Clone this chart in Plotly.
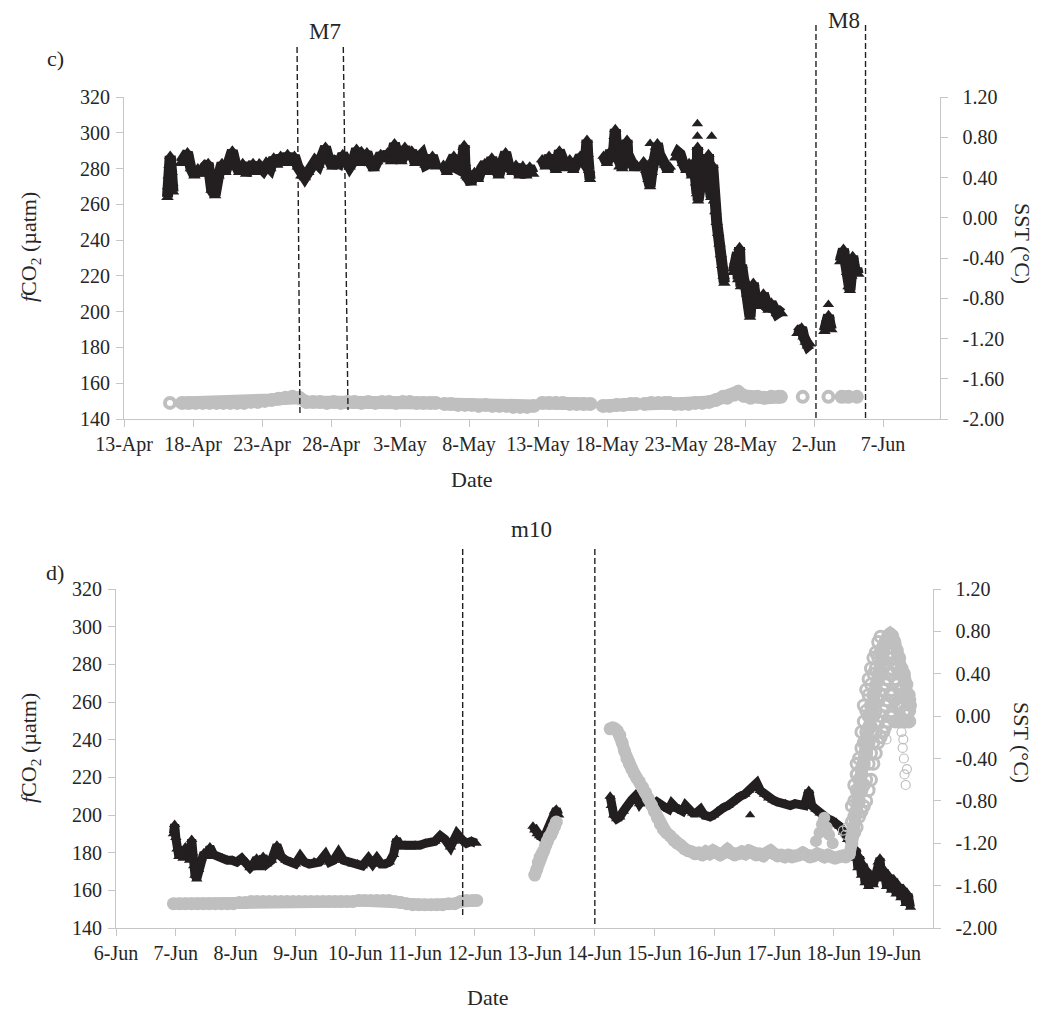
import pandas as pd
import plotly.graph_objects as go

W, H = 1042, 1010
BASE_C = pd.Timestamp("2013-04-13")
BASE_D = pd.Timestamp("2013-06-06")

# ---------------- panel c) : (days after 13-Apr, value) ----------------
c_fco2_pts = [
    (3.15, 264), (3.20, 270), (3.25, 276), (3.30, 282), (3.35, 287), (3.40, 284), (3.45, 278), (3.50, 272), (3.55, 267),
    (4.10, 283), (4.35, 287), (4.60, 289), (4.85, 280), (5.10, 276), (5.35, 280), (5.60, 277), (5.85, 281), (6.10, 283), (6.35, 268),
    (6.60, 265), (6.85, 276), (7.10, 283), (7.35, 278), (7.60, 284), (7.85, 290), (8.10, 282), (8.35, 278), (8.60, 283), (8.85, 277),
    (9.10, 280), (9.35, 283), (9.60, 278), (9.85, 281), (10.10, 279), (10.35, 282), (10.60, 280), (10.85, 286), (11.10, 282), (11.35, 287),
    (11.60, 283), (11.85, 288), (12.10, 283), (12.35, 287), (12.60, 281), (12.85, 276), (13.10, 275), (13.35, 278), (13.60, 281), (13.85, 284),
    (14.10, 282), (14.35, 288), (14.60, 292), (14.85, 285), (15.10, 281), (15.35, 284), (15.60, 283), (15.85, 288), (16.10, 283), (16.35, 281),
    (16.60, 284), (16.85, 291), (17.10, 283), (17.35, 285), (17.60, 289), (17.85, 283), (18.10, 280), (18.35, 284), (18.60, 288), (18.85, 285),
    (19.10, 289), (19.35, 284), (19.60, 294), (19.85, 287), (20.10, 284), (20.35, 292), (20.60, 286), (20.85, 290), (21.10, 283), (21.35, 286),
    (21.60, 288), (21.85, 282), (22.10, 283), (22.35, 287), (22.60, 281),
    (23.15, 282), (23.40, 278), (23.65, 283), (23.90, 287), (24.15, 280), (24.40, 279), (24.55, 286), (24.60, 292), (24.65, 293), (24.70, 283),
    (24.80, 276), (24.90, 275), (25.15, 272), (25.40, 278), (25.65, 274), (25.90, 280), (26.15, 283), (26.40, 278), (26.65, 286), (26.90, 280),
    (27.15, 276), (27.40, 283), (27.65, 289), (27.90, 281), (28.15, 278), (28.40, 282), (28.65, 276), (28.90, 279), (29.15, 276), (29.40, 281),
    (29.65, 277),
    (30.30, 285), (30.55, 281), (30.80, 287), (31.05, 282), (31.30, 279), (31.55, 290), (31.80, 284), (32.05, 280), (32.30, 285), (32.55, 279),
    (32.80, 283), (33.05, 287), (33.30, 284), (33.45, 286), (33.50, 291), (33.55, 296), (33.60, 288), (33.70, 279), (33.77, 274),
    (34.75, 287), (35.00, 283), (35.25, 290), (35.45, 285), (35.50, 292), (35.55, 298), (35.60, 302), (35.65, 295), (35.70, 288), (35.90, 281),
    (36.10, 280), (36.25, 285), (36.35, 284), (36.40, 290), (36.45, 296), (36.50, 288), (36.75, 284), (37.00, 280), (37.15, 282),
    (37.65, 284), (37.85, 279), (38.00, 274), (38.12, 270), (38.25, 278), (38.40, 286), (38.55, 292), (38.65, 294), (38.80, 288),
    (39.00, 285), (39.20, 282), (39.40, 279), (39.55, 281),
    (39.95, 286), (40.15, 289), (40.30, 288), (40.50, 283), (40.75, 279), (40.95, 283), (41.15, 276), (41.30, 284), (41.38, 278), (41.45, 272),
    (41.52, 266), (41.56, 292), (41.60, 262), (41.75, 270), (41.90, 280), (42.05, 285), (42.20, 276), (42.35, 288),
    (42.45, 270), (42.55, 264), (42.65, 282), (42.75, 262), (42.85, 256), (42.95, 250), (43.05, 244), (43.15, 238), (43.25, 232),
    (43.35, 226), (43.45, 220), (43.50, 216),
    (44.15, 222), (44.30, 228), (44.45, 233), (44.50, 218), (44.60, 236), (44.70, 214), (44.75, 226), (44.90, 218), (45.05, 214), (45.15, 210),
    (45.30, 204), (45.36, 197), (45.45, 206), (45.60, 216), (45.75, 208), (45.90, 203), (46.05, 206), (46.20, 205), (46.33, 210), (46.50, 204),
    (46.70, 201), (46.90, 205), (47.10, 201), (47.30, 199), (47.50, 200), (47.66, 199),
    (48.80, 188), (48.95, 190), (49.10, 191), (49.25, 186), (49.40, 183), (49.55, 181), (49.70, 182),
    (50.75, 189), (50.85, 192), (50.95, 196), (51.05, 198), (51.15, 193), (51.25, 190),
    (51.90, 228), (52.00, 232), (52.13, 235), (52.25, 229), (52.40, 222), (52.50, 214), (52.60, 212), (52.70, 220), (52.80, 231), (52.90, 226),
    (53.00, 222), (53.10, 224), (53.20, 221),
]
# isolated readings that stand apart from the main band
c_fco2_lone_pts = [(38.12, 294), (41.55, 305), (41.55, 298), (42.58, 298), (51.04, 204), (17.20, 290)]

c_sst_pts = [
    (4.2, -1.84), (4.7, -1.84), (5.2, -1.84), (5.7, -1.84), (6.2, -1.84), (6.7, -1.84), (7.2, -1.84), (7.7, -1.84), (8.2, -1.84), (8.7, -1.84),
    (9.2, -1.83), (9.7, -1.83), (10.2, -1.82), (10.7, -1.81), (11.2, -1.80), (11.7, -1.79), (12.2, -1.78), (12.7, -1.79), (13.2, -1.83), (13.7, -1.83),
    (14.2, -1.83), (14.7, -1.84), (15.2, -1.83), (15.7, -1.84), (16.2, -1.83), (16.7, -1.83), (17.2, -1.84), (17.7, -1.83), (18.2, -1.84), (18.7, -1.83),
    (19.2, -1.83), (19.7, -1.84), (20.2, -1.83), (20.7, -1.83), (21.2, -1.84), (21.7, -1.84), (22.2, -1.84), (22.6, -1.84),
    (23.2, -1.85), (23.7, -1.85), (24.2, -1.86), (24.7, -1.86), (25.2, -1.86), (25.7, -1.87), (26.2, -1.86), (26.7, -1.87), (27.2, -1.87), (27.7, -1.87),
    (28.2, -1.88), (28.7, -1.88), (29.2, -1.88), (29.7, -1.87),
    (30.3, -1.84), (30.8, -1.84), (31.3, -1.84), (31.8, -1.84), (32.3, -1.85), (32.8, -1.85), (33.3, -1.85), (33.8, -1.85),
    (34.7, -1.87), (35.2, -1.87), (35.7, -1.86), (36.2, -1.86), (36.7, -1.85), (37.1, -1.85),
    (37.7, -1.85), (38.2, -1.84), (38.7, -1.84), (39.2, -1.84), (39.5, -1.84),
    (39.9, -1.85), (40.4, -1.85), (40.9, -1.85), (41.4, -1.84), (41.9, -1.84), (42.4, -1.83), (42.9, -1.81), (43.4, -1.78), (43.7, -1.79),
    (44.2, -1.76), (44.5, -1.73), (44.9, -1.77), (45.4, -1.79), (45.9, -1.78), (46.4, -1.79), (46.9, -1.78), (47.4, -1.78), (47.6, -1.78),
    (52.0, -1.78), (52.5, -1.78), (53.1, -1.78),
]
c_sst_open_pts = [(3.33, -1.84), (49.18, -1.78), (51.04, -1.78)]

# ---------------- panel d) : (days after 6-Jun, value) ----------------
d_fco2_pts = [
    (0.96, 190), (0.98, 195), (1.00, 188), (1.02, 182), (1.05, 178), (1.08, 181), (1.12, 177), (1.16, 183), (1.20, 178), (1.23, 176),
    (1.265, 187), (1.28, 180), (1.30, 173), (1.32, 168), (1.35, 166), (1.38, 171), (1.42, 177), (1.47, 180), (1.52, 178), (1.57, 183),
    (1.63, 179), (1.70, 178), (1.78, 177), (1.86, 176), (1.94, 176), (2.02, 175), (2.10, 177), (2.18, 175), (2.24, 172), (2.30, 174),
    (2.35, 177), (2.40, 172), (2.46, 178), (2.52, 174), (2.60, 176), (2.69, 184), (2.76, 178), (2.84, 176), (2.92, 175), (3.00, 174),
    (3.08, 178), (3.15, 175), (3.23, 174), (3.31, 175), (3.40, 175), (3.50, 179), (3.57, 175), (3.64, 176), (3.72, 180), (3.80, 176),
    (3.88, 175), (3.96, 174), (4.04, 174), (4.12, 173), (4.22, 177), (4.29, 174), (4.36, 177), (4.43, 174), (4.50, 174), (4.57, 175),
    (4.64, 179), (4.69, 187), (4.75, 184), (4.83, 184), (4.92, 183), (5.00, 184), (5.08, 184), (5.17, 185), (5.25, 185), (5.33, 186),
    (5.42, 189), (5.50, 187), (5.59, 183), (5.65, 186), (5.70, 190), (5.78, 187), (5.86, 185), (5.94, 186), (6.02, 185),
    (6.97, 194), (7.00, 192), (7.04, 190), (7.08, 189), (7.12, 188), (7.17, 189), (7.21, 192), (7.25, 195), (7.29, 198), (7.33, 202),
    (7.36, 203), (7.40, 200),
    (8.26, 210), (8.28, 205), (8.32, 200), (8.37, 198), (8.42, 199), (8.48, 202), (8.55, 206), (8.62, 208), (8.68, 210), (8.75, 206),
    (8.82, 209), (8.89, 206), (8.96, 205), (9.04, 207), (9.11, 205), (9.18, 204), (9.24, 203), (9.29, 206), (9.35, 204), (9.42, 203),
    (9.47, 202), (9.52, 205), (9.58, 202), (9.64, 201), (9.70, 201), (9.77, 203), (9.83, 200), (9.88, 199), (9.93, 199), (9.99, 200),
    (10.05, 202), (10.11, 203), (10.16, 204), (10.23, 205), (10.30, 207), (10.37, 209), (10.44, 210), (10.51, 211), (10.57, 213), (10.64, 214),
    (10.71, 217), (10.77, 213), (10.84, 211), (10.91, 209), (10.98, 208), (11.05, 207), (11.12, 206), (11.19, 206), (11.27, 205), (11.35, 206),
    (11.43, 205), (11.51, 205), (11.58, 213), (11.63, 205), (11.70, 203), (11.77, 201), (11.83, 199), (11.90, 198), (11.97, 197), (12.04, 196),
    (12.10, 194), (12.16, 191), (12.23, 187), (12.30, 184), (12.34, 177), (12.37, 182), (12.40, 172), (12.43, 178), (12.46, 168), (12.49, 174),
    (12.52, 164), (12.55, 171), (12.58, 162), (12.62, 168), (12.66, 163), (12.70, 170), (12.74, 175), (12.77, 177), (12.80, 166), (12.84, 171),
    (12.88, 162), (12.92, 168), (12.96, 160), (13.00, 166), (13.04, 158), (13.08, 163), (13.12, 156), (13.16, 161), (13.20, 153), (13.24, 158),
    (13.28, 151),
]
d_fco2_lone_pts = [(10.60, 200)]

d_sst_pts = [
    (0.96, -1.77), (1.06, -1.77), (1.16, -1.77), (1.26, -1.77), (1.36, -1.77), (1.46, -1.77), (1.56, -1.77), (1.66, -1.77), (1.76, -1.77), (1.86, -1.77),
    (1.96, -1.77), (2.06, -1.76), (2.16, -1.76), (2.26, -1.75), (2.36, -1.75), (2.46, -1.75), (2.56, -1.75), (2.66, -1.75), (2.76, -1.75), (2.86, -1.75),
    (2.96, -1.75), (3.06, -1.75), (3.16, -1.75), (3.26, -1.75), (3.36, -1.75), (3.46, -1.75), (3.56, -1.75), (3.66, -1.75), (3.76, -1.75), (3.86, -1.75),
    (3.96, -1.75), (4.06, -1.74), (4.16, -1.74), (4.26, -1.74), (4.36, -1.74), (4.46, -1.74), (4.56, -1.74), (4.66, -1.75), (4.76, -1.76), (4.86, -1.77),
    (4.96, -1.78), (5.06, -1.78), (5.16, -1.78), (5.26, -1.78), (5.36, -1.78), (5.46, -1.78), (5.56, -1.77), (5.66, -1.77), (5.76, -1.75), (5.86, -1.74),
    (5.96, -1.74), (6.03, -1.74),
    (7.00, -1.50), (7.03, -1.45), (7.06, -1.38), (7.09, -1.33), (7.12, -1.30), (7.15, -1.27), (7.18, -1.22), (7.21, -1.18), (7.24, -1.14), (7.27, -1.12),
    (7.30, -1.08), (7.33, -1.04), (7.36, -1.00),
    (8.26, -0.12), (8.30, -0.11), (8.34, -0.12), (8.38, -0.14), (8.42, -0.18), (8.46, -0.25), (8.50, -0.33), (8.54, -0.40), (8.58, -0.45), (8.62, -0.50),
    (8.66, -0.54), (8.70, -0.58), (8.75, -0.62), (8.80, -0.67), (8.85, -0.72), (8.90, -0.78), (8.95, -0.84), (9.00, -0.90), (9.05, -0.96), (9.10, -1.02),
    (9.15, -1.07), (9.20, -1.10), (9.26, -1.13), (9.32, -1.17), (9.38, -1.20), (9.44, -1.22), (9.50, -1.25), (9.56, -1.27), (9.62, -1.28), (9.68, -1.30),
    (9.74, -1.29), (9.80, -1.31), (9.86, -1.28), (9.92, -1.30), (9.98, -1.27), (10.04, -1.29), (10.10, -1.31), (10.16, -1.29), (10.22, -1.26), (10.28, -1.29),
    (10.34, -1.31), (10.40, -1.30), (10.46, -1.28), (10.52, -1.30), (10.58, -1.27), (10.64, -1.29), (10.70, -1.31), (10.76, -1.30), (10.82, -1.32), (10.88, -1.29),
    (10.94, -1.27), (11.00, -1.30), (11.06, -1.32), (11.12, -1.31), (11.18, -1.33), (11.24, -1.31), (11.30, -1.33), (11.36, -1.32), (11.42, -1.31), (11.48, -1.29),
    (11.54, -1.31), (11.60, -1.33), (11.66, -1.32), (11.72, -1.30), (11.78, -1.31), (11.84, -1.33), (11.90, -1.31), (11.96, -1.33),
    (12.02, -1.34), (12.08, -1.33), (12.14, -1.32), (12.20, -1.33), (12.26, -1.30),
    (12.30, -1.20), (12.33, -1.05), (12.36, -0.90), (12.39, -0.80), (12.42, -0.70), (12.46, -0.55), (12.50, -0.40), (12.54, -0.25), (12.58, -0.10), (12.62, 0.05),
    (12.66, 0.20), (12.70, 0.30), (12.74, 0.40), (12.78, 0.50), (12.82, 0.58), (12.86, 0.70), (12.90, 0.76), (12.94, 0.78), (12.98, 0.76), (13.02, 0.70),
    (13.06, 0.62), (13.10, 0.55), (13.14, 0.45), (13.18, 0.40), (13.22, 0.30), (13.26, 0.20), (13.28, 0.10),
]
d_sst_bump_pts = [(11.70, -1.18), (11.76, -1.10), (11.80, -1.02), (11.84, -0.96), (11.88, -1.05), (11.92, -1.12), (11.98, -1.20)]

d_sst_blob_pts = [
    (12.30, -1.15), (12.30, -1.00), (12.30, -0.85),
    (12.34, -1.10), (12.34, -0.95), (12.34, -0.80), (12.34, -0.65),
    (12.38, -1.05), (12.38, -0.90), (12.38, -0.70), (12.38, -0.55), (12.38, -0.45),
    (12.42, -0.95), (12.42, -0.80), (12.42, -0.60), (12.42, -0.40),
    (12.46, -0.90), (12.46, -0.70), (12.46, -0.50), (12.46, -0.30), (12.46, -0.15),
    (12.50, -0.85), (12.50, -0.65), (12.50, -0.45), (12.50, -0.25), (12.50, -0.05), (12.50, 0.10),
    (12.54, -0.80), (12.54, -0.60), (12.54, -0.35), (12.54, -0.15), (12.54, 0.05), (12.54, 0.25),
    (12.58, -0.70), (12.58, -0.45), (12.58, -0.25), (12.58, 0.00), (12.58, 0.20), (12.58, 0.35),
    (12.62, -0.60), (12.62, -0.35), (12.62, -0.10), (12.62, 0.10), (12.62, 0.30), (12.62, 0.45),
    (12.66, -0.45), (12.66, -0.25), (12.66, 0.00), (12.66, 0.20), (12.66, 0.40), (12.66, 0.55),
    (12.70, -0.35), (12.70, -0.15), (12.70, 0.05), (12.70, 0.25), (12.70, 0.45), (12.70, 0.60),
    (12.74, -0.25), (12.74, -0.05), (12.74, 0.15), (12.74, 0.35), (12.74, 0.55), (12.74, 0.70),
    (12.78, -0.20), (12.78, 0.00), (12.78, 0.20), (12.78, 0.40), (12.78, 0.60), (12.78, 0.75),
    (12.82, -0.15), (12.82, 0.05), (12.82, 0.25), (12.82, 0.45), (12.82, 0.65),
    (12.86, -0.10), (12.86, 0.10), (12.86, 0.30), (12.86, 0.50), (12.86, 0.70),
    (12.90, -0.05), (12.90, 0.15), (12.90, 0.35), (12.90, 0.55),
    (12.94, 0.00), (12.94, 0.20), (12.94, 0.40), (12.94, 0.60),
    (12.98, 0.00), (12.98, 0.20), (12.98, 0.40), (12.98, 0.55),
    (13.02, -0.05), (13.02, 0.15), (13.02, 0.35), (13.02, 0.50),
    (13.06, -0.05), (13.06, 0.10), (13.06, 0.30), (13.06, 0.45),
    (13.10, -0.05), (13.10, 0.10), (13.10, 0.25), (13.10, 0.40),
    (13.14, -0.05), (13.14, 0.10), (13.14, 0.25), (13.14, 0.40),
    (13.18, -0.05), (13.18, 0.05), (13.18, 0.20), (13.18, 0.35),
    (13.22, -0.05), (13.22, 0.05), (13.22, 0.20),
    (13.26, -0.05), (13.26, 0.05), (13.26, 0.15),
]
d_sst_open_pts = [
    (12.15, -1.08), (12.19, -1.12), (12.22, -1.05), (12.36, -0.45), (12.38, -0.55), (12.40, -0.70), (12.53, -0.15), (12.56, -0.25),
    (12.58, -0.30), (12.86, -0.15), (12.88, -0.22), (13.13, -0.15), (13.15, -0.30), (13.16, -0.22), (13.17, -0.40), (13.18, -0.55),
    (13.20, -0.65), (13.22, -0.50),
]

# ---------------- ticks ----------------
c_tick_days = [0, 5, 10, 15, 20, 25, 30, 35, 40, 45, 50, 55]
c_tick_text = ["13-Apr", "18-Apr", "23-Apr", "28-Apr", "3-May", "8-May", "13-May", "18-May", "23-May", "28-May", "2-Jun", "7-Jun"]
d_tick_days = list(range(0, 14))
d_tick_text = ["6-Jun", "7-Jun", "8-Jun", "9-Jun", "10-Jun", "11-Jun", "12-Jun", "13-Jun", "14-Jun", "15-Jun", "16-Jun", "17-Jun", "18-Jun", "19-Jun"]
fco2_ticks = [140, 160, 180, 200, 220, 240, 260, 280, 300, 320]
sst_ticks = [-2.0, -1.6, -1.2, -0.8, -0.4, 0.0, 0.4, 0.8, 1.2]
sst_tick_text = ["-2.00", "-1.60", "-1.20", "-0.80", "-0.40", "0.00", "0.40", "0.80", "1.20"]

# campaign marker lines (days after panel base): (top day, bottom day)
c_lines = [(12.54, 12.75), (15.89, 16.23), (50.14, 50.14), (53.73, 53.73)]
d_lines = [(5.795, 5.795), (8.004, 8.004)]


def to_dates(base, days):
    return [base + pd.to_timedelta(d, unit="D") for d in days]


def split(pts):
    pts = sorted(pts)
    return [p[0] for p in pts], [p[1] for p in pts]


def band(base, pts, gap):
    """Sorted series with None inserted where the record has a data gap."""
    t, v = split(pts)
    xs, ys = [], []
    for i, (ti, vi) in enumerate(zip(t, v)):
        if i and ti - t[i - 1] > gap:
            xs.append(None)
            ys.append(None)
        xs.append(base + pd.to_timedelta(ti, unit="D"))
        ys.append(vi)
    return xs, ys


BLACK = "#231f20"
GREY = "#bfbfbf"
AXC = "#c6c6c6"
FONT = "Liberation Serif, Times New Roman, serif"

fig = go.Figure()

# panel c
x, y = band(BASE_C, c_fco2_pts, 0.3)
fig.add_trace(go.Scatter(x=x, y=y, mode="lines+markers", xaxis="x", yaxis="y",
                         line=dict(color=BLACK, width=11),
                         marker=dict(symbol="triangle-up", size=11, color=BLACK, line=dict(width=0))))
t, v = split(c_fco2_lone_pts)
fig.add_trace(go.Scatter(x=to_dates(BASE_C, t), y=v, mode="markers", xaxis="x", yaxis="y",
                         marker=dict(symbol="triangle-up", size=10, color=BLACK, line=dict(width=0))))
x, y = band(BASE_C, c_sst_pts, 0.55)
fig.add_trace(go.Scatter(x=x, y=y, mode="lines+markers", xaxis="x", yaxis="y2",
                         line=dict(color=GREY, width=13),
                         marker=dict(symbol="circle", size=14, color=GREY, line=dict(width=0))))
t, v = split(c_sst_open_pts)
fig.add_trace(go.Scatter(x=to_dates(BASE_C, t), y=v, mode="markers", xaxis="x", yaxis="y2",
                         marker=dict(symbol="circle-open", size=10, color=GREY, line=dict(width=4, color=GREY))))

# panel d
x, y = band(BASE_D, d_fco2_pts, 0.3)
fig.add_trace(go.Scatter(x=x, y=y, mode="lines+markers", xaxis="x2", yaxis="y3",
                         line=dict(color=BLACK, width=9),
                         marker=dict(symbol="triangle-up", size=10, color=BLACK, line=dict(width=0))))
t, v = split(d_fco2_lone_pts)
fig.add_trace(go.Scatter(x=to_dates(BASE_D, t), y=v, mode="markers", xaxis="x2", yaxis="y3",
                         marker=dict(symbol="triangle-up", size=9, color=BLACK, line=dict(width=0))))
x, y = band(BASE_D, d_sst_pts, 0.3)
fig.add_trace(go.Scatter(x=x, y=y, mode="lines+markers", xaxis="x2", yaxis="y4",
                         line=dict(color=GREY, width=12),
                         marker=dict(symbol="circle", size=13, color=GREY, line=dict(width=0))))
t, v = split(d_sst_bump_pts)
fig.add_trace(go.Scatter(x=to_dates(BASE_D, t), y=v, mode="markers", xaxis="x2", yaxis="y4",
                         marker=dict(symbol="circle", size=12, color=GREY, line=dict(width=0))))
t, v = split(d_sst_blob_pts)
fig.add_trace(go.Scatter(x=to_dates(BASE_D, t), y=v, mode="markers", xaxis="x2", yaxis="y4",
                         marker=dict(symbol="circle-open", size=11, color=GREY, line=dict(width=3, color=GREY))))
t, v = split(d_sst_open_pts)
fig.add_trace(go.Scatter(x=to_dates(BASE_D, t), y=v, mode="markers", xaxis="x2", yaxis="y4",
                         marker=dict(symbol="circle-open", size=9, color=GREY, line=dict(width=1.2, color=GREY))))


def px_x(px):
    return px / W


def px_y(py):
    return 1 - py / H


axis_common = dict(showgrid=False, zeroline=False, showline=True, linecolor=AXC, linewidth=1,
                   ticks="outside", ticklen=7, tickcolor=AXC, tickwidth=1, automargin=False,
                   tickfont=dict(family=FONT, size=20, color="#262626"))

fig.update_layout(
    width=W, height=H, margin=dict(l=0, r=0, t=0, b=0),
    paper_bgcolor="white", plot_bgcolor="white", showlegend=False,
    font=dict(family=FONT, color="#262626"),
    xaxis=dict(domain=[px_x(124), px_x(939.5)], anchor="y",
               range=[BASE_C, BASE_C + pd.to_timedelta(59.09, unit="D")],
               tickmode="array", tickvals=to_dates(BASE_C, c_tick_days), ticktext=c_tick_text,
               ticklabelstandoff=0, **axis_common),
    yaxis=dict(domain=[px_y(419), px_y(97)], anchor="x", range=[140, 320],
               tickmode="array", tickvals=fco2_ticks, ticklabelstandoff=2, **axis_common),
    yaxis2=dict(overlaying="y", side="right", anchor="x", range=[-2.0, 1.2],
                tickmode="array", tickvals=sst_ticks, ticktext=sst_tick_text, ticklabelstandoff=11, **axis_common),
    xaxis2=dict(domain=[px_x(116), px_x(932.6)], anchor="y3",
                range=[BASE_D, BASE_D + pd.to_timedelta(13.65, unit="D")],
                tickmode="array", tickvals=to_dates(BASE_D, d_tick_days), ticktext=d_tick_text,
                ticklabelstandoff=0, **axis_common),
    yaxis3=dict(domain=[px_y(928), px_y(589)], anchor="x2", range=[140, 320],
                tickmode="array", tickvals=fco2_ticks, ticklabelstandoff=2, **axis_common),
    yaxis4=dict(overlaying="y3", side="right", anchor="x2", range=[-2.0, 1.2],
                tickmode="array", tickvals=sst_ticks, ticktext=sst_tick_text, ticklabelstandoff=11, **axis_common),
)

# dashed campaign lines
c_line_ys = [(47, 413), (47, 410), (25, 418), (25, 418)]
for (d0, d1), (y0, y1) in zip(c_lines, c_line_ys):
    fig.add_shape(type="line", xref="x", yref="paper",
                  x0=BASE_C + pd.to_timedelta(d0, unit="D"), x1=BASE_C + pd.to_timedelta(d1, unit="D"),
                  y0=px_y(y0), y1=px_y(y1), line=dict(color=BLACK, width=1.4, dash="6px,3px"))
d_line_ys = [(549, 917), (549, 926)]
for (d0, d1), (y0, y1) in zip(d_lines, d_line_ys):
    fig.add_shape(type="line", xref="x2", yref="paper",
                  x0=BASE_D + pd.to_timedelta(d0, unit="D"), x1=BASE_D + pd.to_timedelta(d1, unit="D"),
                  y0=px_y(y0), y1=px_y(y1), line=dict(color=BLACK, width=1.4, dash="6px,3px"))

labels = [
    ("c)", 55, 58, 0, 22), ("M7", 325, 31, 0, 23), ("M8", 844, 20, 0, 23),
    ("d)", 55, 572, 0, 22), ("m10", 531, 529, 0, 23),
    ("Date", 472, 479, 0, 22), ("Date", 488, 997, 0, 22),
    ("<i>f</i>CO<sub>2</sub> (µatm)", 30, 247, -90, 22), ("<i>f</i>CO<sub>2</sub> (µatm)", 30, 748, -90, 22),
    ("SST (°C)", 1023, 243, 90, 22), ("SST (°C)", 1022, 742, 90, 22),
]
for text, x, y, ang, size in labels:
    fig.add_annotation(text=text, xref="paper", yref="paper", x=px_x(x), y=px_y(y),
                       xanchor="center", yanchor="middle", showarrow=False, textangle=ang,
                       font=dict(family=FONT, size=size, color="#262626"))

fig.write_html("out.html", config={"displayModeBar": False},
               post_script="document.body.style.margin='0px';document.body.style.overflow='hidden';")
